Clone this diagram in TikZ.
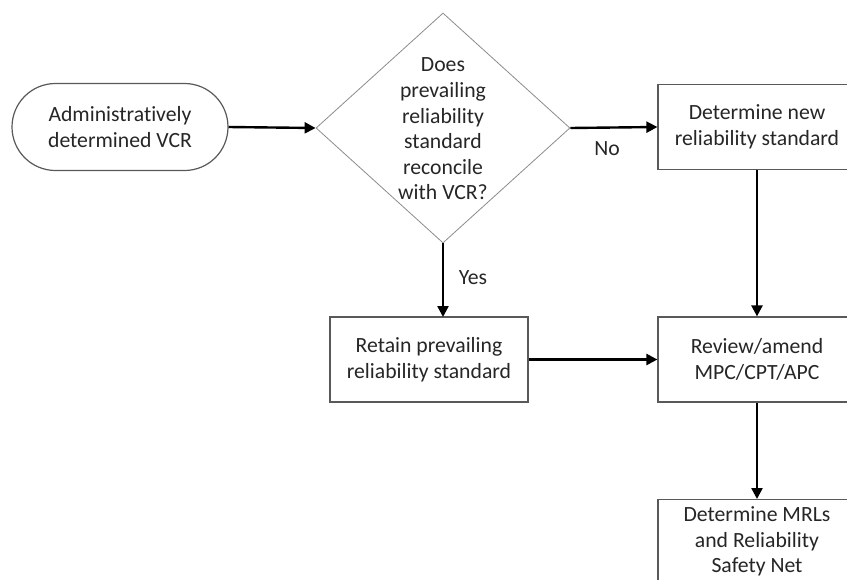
\documentclass[tikz,border=0pt]{standalone}
\usepackage{fontspec}
\setmainfont{Carlito}[Ligatures=NoCommon]
\usetikzlibrary{shapes.geometric,shapes.misc,arrows.meta}
\begin{document}
\begin{tikzpicture}[x=1pt,y=-1pt,
  txt/.style={font=\fontsize{21.7}{25.6}\selectfont, text=black!85, align=center},
  boxnode/.style={txt, draw=black!65, line width=1.2pt, rectangle, minimum width=198pt, minimum height=85pt, inner sep=0pt},
  termnode/.style={txt, draw=black!65, line width=1.2pt, rounded rectangle, minimum width=216pt, minimum height=87pt, inner sep=0pt},
  dianode/.style={draw=black!45, line width=0.8pt, diamond, minimum width=254pt, minimum height=230pt, inner sep=0pt},
  conn/.style={line width=2.4pt, -{Triangle[length=11pt,width=11pt]}},
  lbl/.style={font=\fontsize{21.7}{26}\selectfont, text=black!85}]
\clip (0,0) rectangle (847,579);
\fill[white] (0,0) rectangle (847,579);
\node[termnode] (term) at (120,127) {Administratively\\determined VCR};
\node[dianode] (dec) at (443,128) {};
\node[txt] (dectext) at (443,129) {Does\\prevailing\\reliability\\standard\\reconcile\\with VCR?};
\node[boxnode] (newstd) at (757,127) {Determine new\\reliability standard};
\node[boxnode] (retain) at (429,359.5) {Retain prevailing\\reliability standard};
\node[boxnode] (review) at (757,359.5) {Review/amend\\MPC/CPT/APC};
\node[boxnode, minimum height=87pt, anchor=north] (mrl) at (757,499) {};
\node[txt] (mrltext) at (757,541.5) {Determine MRLs\\and Reliability\\Safety Net};
\coordinate (retaintop) at (443,317);
\draw[conn] (term.east) -- (dec.west);
\draw[conn] (dec.east) -- (newstd.west);
\draw[conn] (dec.south) -- (retaintop);
\draw[conn] (newstd.south) -- (review.north);
\draw[conn] (retain.east) -- (review.west);
\draw[conn] (review.south) -- (mrl.north);
\node[lbl] (no) at (607,149) {No};
\node[lbl] (yes) at (473,278) {Yes};
\end{tikzpicture}
\end{document}
